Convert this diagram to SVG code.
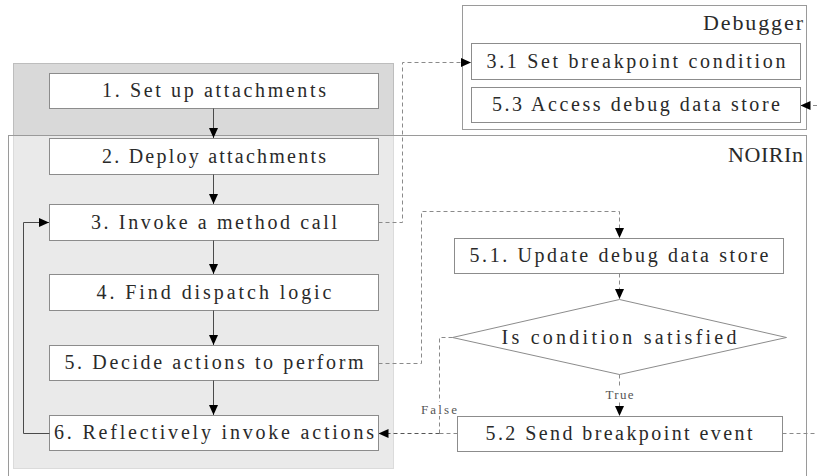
<svg xmlns="http://www.w3.org/2000/svg" width="817" height="476" viewBox="0 0 817 476">
  <style>
    .box { fill: #ffffff; stroke: #8c8c8c; stroke-width: 1; }
    .lbl { font-family: "Liberation Serif", "DejaVu Serif", serif; font-size: 20px; fill: #2a2a2a; text-anchor: middle; }
    .title { font-family: "Liberation Serif", "DejaVu Serif", serif; font-size: 22px; fill: #2a2a2a; text-anchor: end; }
    .small { font-family: "Liberation Serif", "DejaVu Serif", serif; font-size: 13px; fill: #555555; text-anchor: middle; }
    .solid { fill: none; stroke: #4a4a4a; stroke-width: 1; }
    .dash { fill: none; stroke: #8a8a8a; stroke-width: 1; stroke-dasharray: 4 3; }
    .dashdark { fill: none; stroke: #555555; stroke-width: 1; stroke-dasharray: 4 3; }
  </style>
  <defs>
    <marker id="arrow" markerUnits="userSpaceOnUse" markerWidth="10" markerHeight="10" viewBox="0 0 10 10" refX="10" refY="5" orient="auto">
      <path d="M0,0.5 L10,5 L0,9.5 Z" fill="#000000"/>
    </marker>
  </defs>

  <!-- containers -->
  <g id="setup-area">
    <rect x="13.5" y="63.5" width="380" height="405" fill="#d9d9d9" stroke="#bdbdbd"/>
  </g>
  <g id="noirin">
    <rect x="8.5" y="135.5" width="798" height="350" fill="#ffffff" fill-opacity="0.45" stroke="#9a9a9a"/>
    <text class="title" x="803" y="162" textLength="75" lengthAdjust="spacing">NOIRIn</text>
  </g>
  <g id="debugger">
    <rect x="462.5" y="5.5" width="344" height="124" fill="#ffffff" stroke="#9a9a9a"/>
    <text class="title" x="803" y="30" textLength="100" lengthAdjust="spacing">Debugger</text>
  </g>

  <!-- steps -->
  <g id="step1">
    <rect class="box" x="49.5" y="73.5" width="329" height="35"/>
    <text class="lbl" x="214" y="97" textLength="224" lengthAdjust="spacing">1. Set up attachments</text>
  </g>
  <g id="step2">
    <rect class="box" x="49.5" y="138.5" width="329" height="36"/>
    <text class="lbl" x="214" y="162.5" textLength="224" lengthAdjust="spacing">2. Deploy attachments</text>
  </g>
  <g id="step3">
    <rect class="box" x="49.5" y="204.5" width="329" height="36"/>
    <text class="lbl" x="214" y="228.5" textLength="246" lengthAdjust="spacing">3. Invoke a method call</text>
  </g>
  <g id="step4">
    <rect class="box" x="49.5" y="274.5" width="329" height="36"/>
    <text class="lbl" x="214" y="298.5" textLength="235" lengthAdjust="spacing">4. Find dispatch logic</text>
  </g>
  <g id="step5">
    <rect class="box" x="49.5" y="345.5" width="329" height="35"/>
    <text class="lbl" x="214" y="369" textLength="299" lengthAdjust="spacing">5. Decide actions to perform</text>
  </g>
  <g id="step6">
    <rect class="box" x="49.5" y="415.5" width="329" height="35"/>
    <text class="lbl" x="214" y="439" textLength="320" lengthAdjust="spacing">6. Reflectively invoke actions</text>
  </g>
  <g id="step3-1">
    <rect class="box" x="471.5" y="43.5" width="329" height="36"/>
    <text class="lbl" x="636" y="67.5" textLength="299" lengthAdjust="spacing">3.1 Set breakpoint condition</text>
  </g>
  <g id="step5-3">
    <rect class="box" x="471.5" y="87.5" width="329" height="35"/>
    <text class="lbl" x="636" y="111" textLength="288" lengthAdjust="spacing">5.3 Access debug data store</text>
  </g>
  <g id="step5-1">
    <rect class="box" x="454.5" y="238.5" width="329" height="35"/>
    <text class="lbl" x="619" y="262" textLength="299" lengthAdjust="spacing">5.1. Update debug data store</text>
  </g>
  <g id="decision">
    <polygon points="619.5,299.5 786.5,337.5 619.5,374.5 452.5,337.5" fill="#ffffff" stroke="#8c8c8c"/>
    <text class="lbl" x="619" y="343.5" textLength="235" lengthAdjust="spacing">Is condition satisfied</text>
  </g>
  <g id="step5-2">
    <rect class="box" x="457.5" y="416.5" width="325" height="35"/>
    <text class="lbl" x="619" y="440" textLength="267" lengthAdjust="spacing">5.2 Send breakpoint event</text>
  </g>

  <!-- connectors -->
  <g id="connectors">
    <path class="solid" d="M213.5,108.5 V138" marker-end="url(#arrow)"/>
    <path class="solid" d="M213.5,174.5 V204" marker-end="url(#arrow)"/>
    <path class="solid" d="M213.5,240.5 V274" marker-end="url(#arrow)"/>
    <path class="solid" d="M213.5,310.5 V345" marker-end="url(#arrow)"/>
    <path class="solid" d="M213.5,380.5 V415" marker-end="url(#arrow)"/>
    <path class="solid" d="M49.5,433.5 H23.5 V222.5 H49" marker-end="url(#arrow)"/>

    <path class="dash" d="M378.5,222.5 H402.5 V62.5 H471" marker-end="url(#arrow)"/>
    <path class="dash" d="M378.5,363.5 H421.5 V211.5 H619.5 V238" marker-end="url(#arrow)"/>
    <path class="dash" d="M619.5,273.5 V299" marker-end="url(#arrow)"/>
    <path class="dash" d="M619.5,374.5 V416" marker-end="url(#arrow)"/>
    <path class="dash" d="M452.5,337.5 H439.5 V433.5"/>
    <path class="dash" d="M457.5,433.5 H439.5"/>
    <path class="dashdark" d="M439.5,433.5 H378.5" marker-end="url(#arrow)"/>
    <path class="dash" d="M782.5,433.5 H817"/>
    <path class="dash" d="M817,105.5 H800.5" marker-end="url(#arrow)"/>

    <rect x="604" y="386" width="31" height="16" fill="#ffffff"/>
    <text class="small" x="619.5" y="399" textLength="28" lengthAdjust="spacing">True</text>
    <rect x="420" y="402" width="38" height="14" fill="#ffffff"/>
    <text class="small" x="439" y="413.5" textLength="36" lengthAdjust="spacing">False</text>
  </g>
</svg>
